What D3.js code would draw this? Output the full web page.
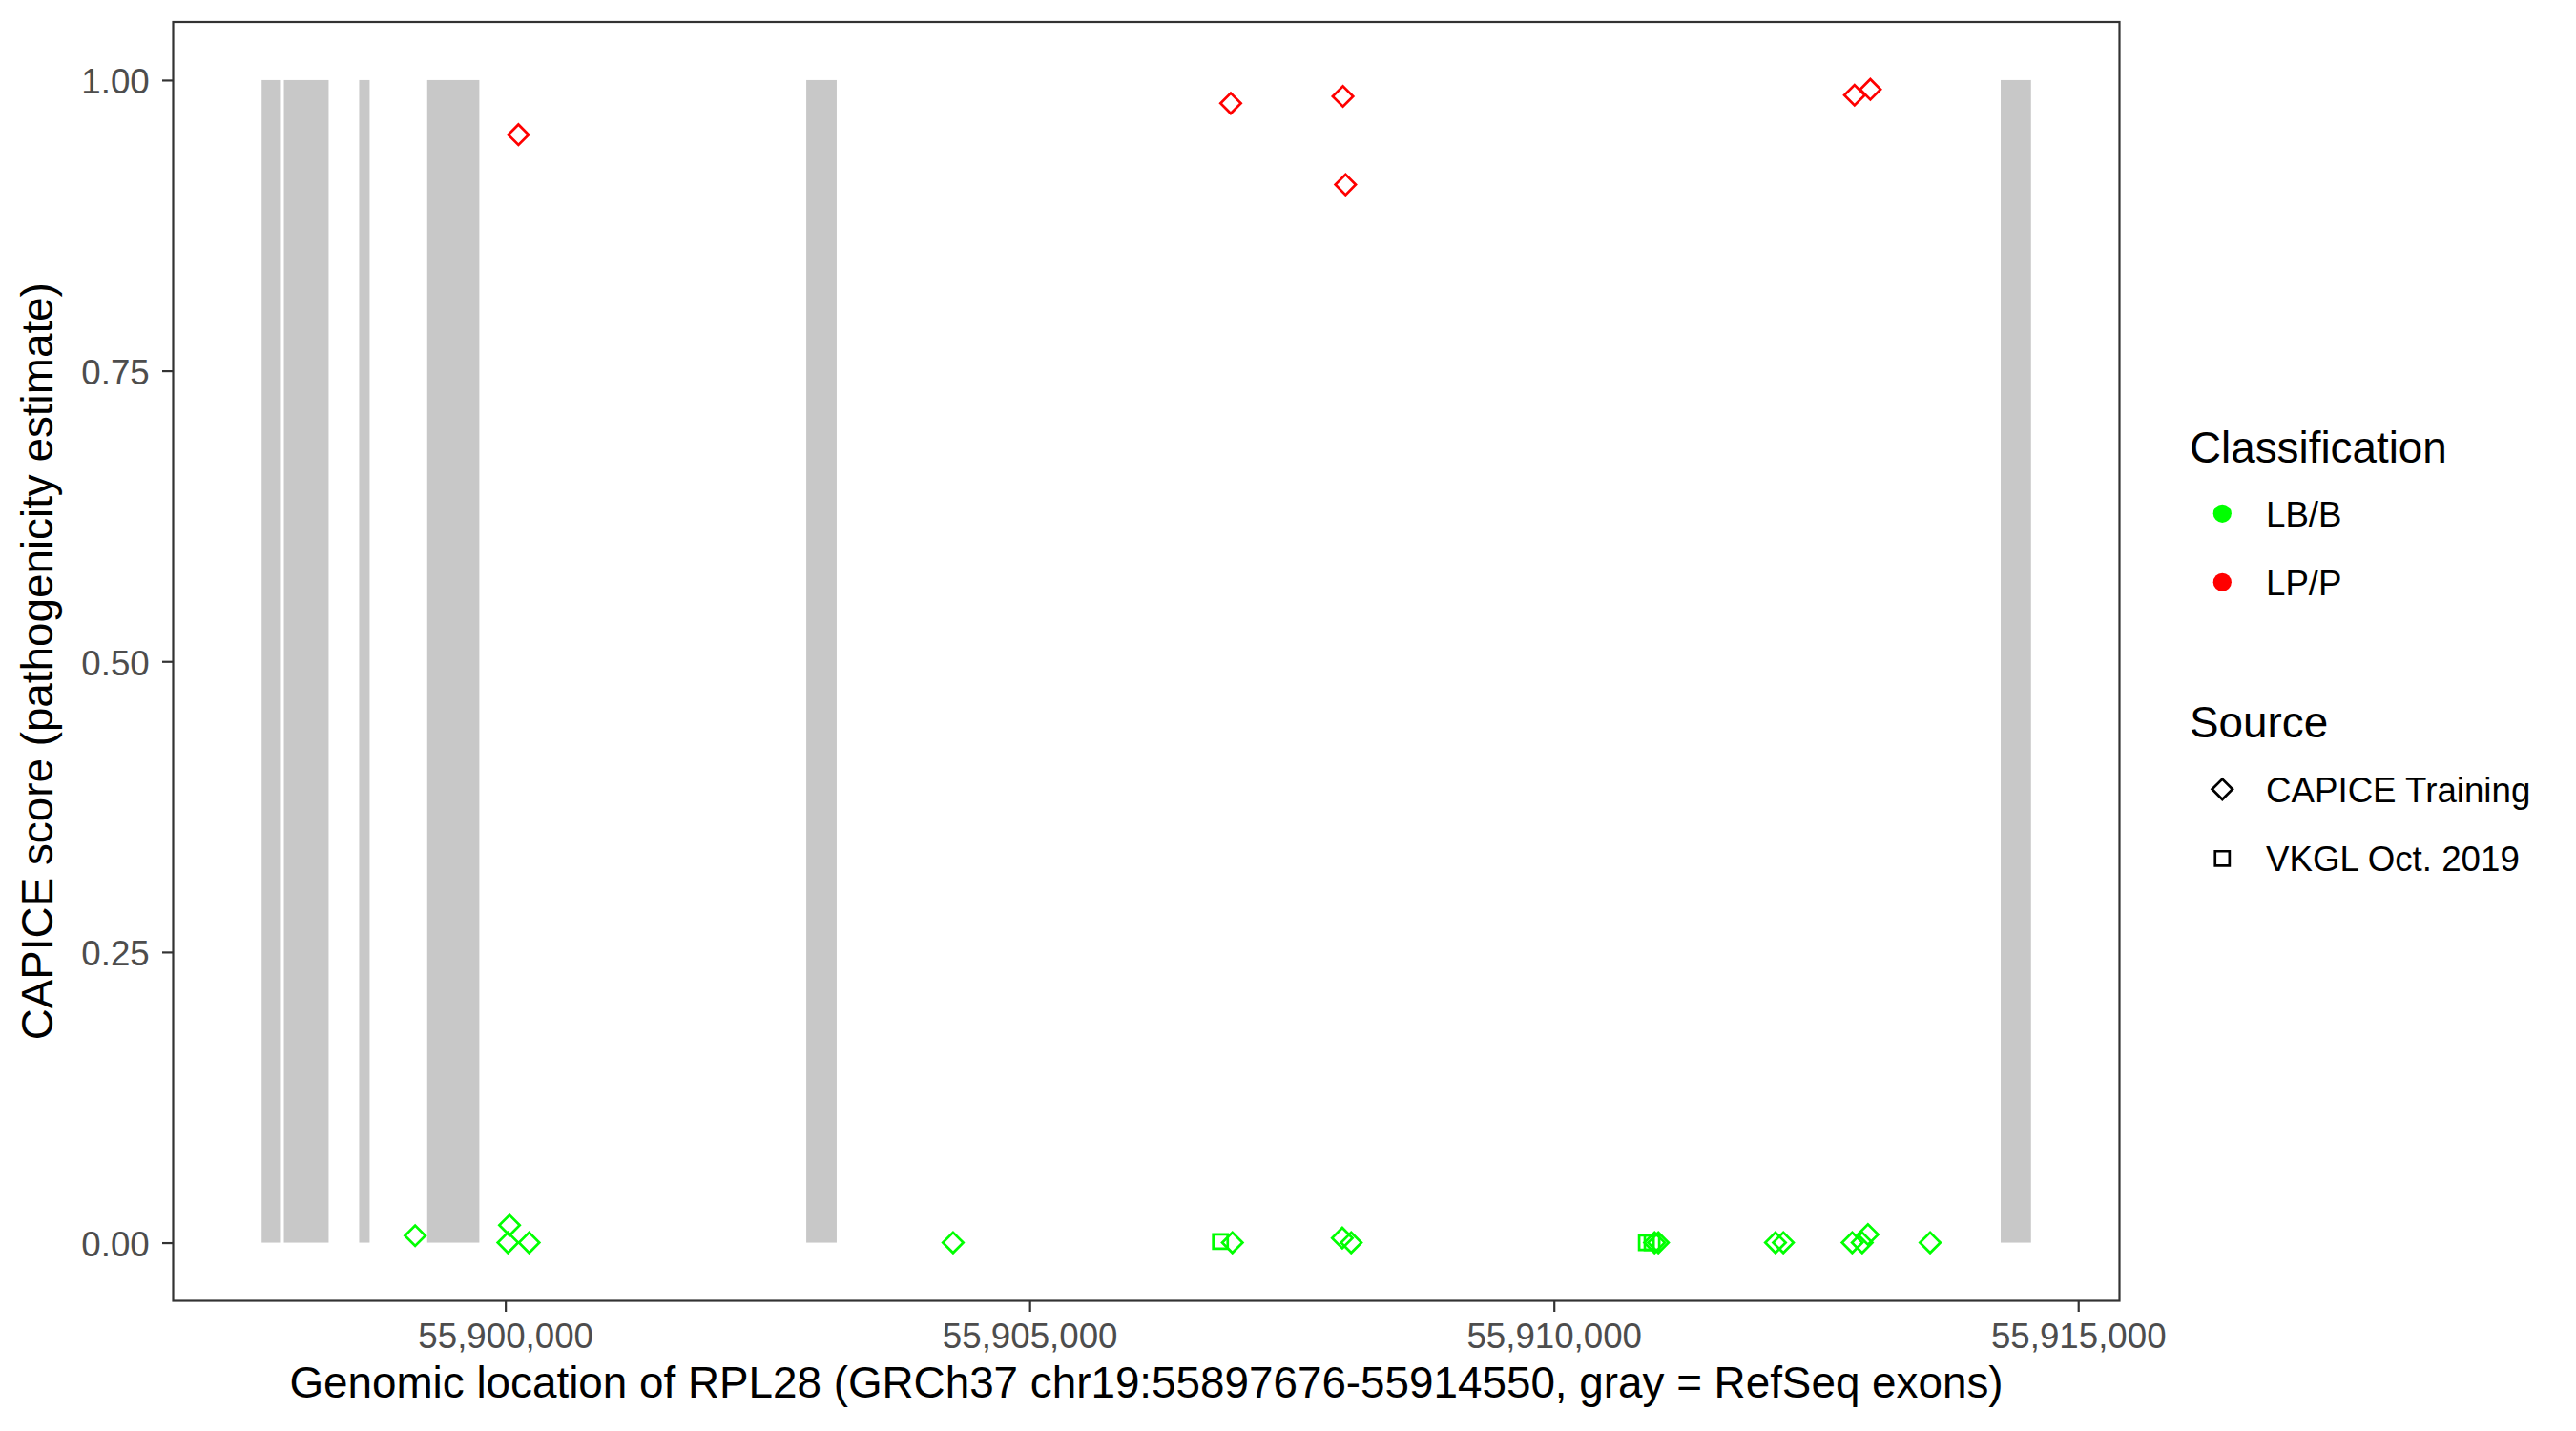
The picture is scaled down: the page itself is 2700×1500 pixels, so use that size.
<!DOCTYPE html>
<html>
<head>
<meta charset="utf-8">
<script src="https://cdn.jsdelivr.net/npm/d3@7"></script>
<style>
  body { margin: 0; background: #fff; }
  svg { display: block; font-family: "Liberation Sans", Arial, sans-serif; }
</style>
</head>
<body>
<script>
// gene window (GRCh37 chr19)
var geneStart = 55897676,
    geneEnd = 55914550;

// RefSeq exons, start / end
var exonStart = [55897676, 55897888, 55898606, 55899255, 55902870, 55914261];
var exonEnd   = [55897860, 55898315, 55898706, 55899752, 55903160, 55914550];

// variants: position, CAPICE score, classification, source
var varPos = [
    55899140, 55900040, 55900025, 55900227, 55904270, 55906820, 55906934,
    55907982, 55908067, 55910882, 55910936, 55910960, 55910996, 55912113,
    55912188, 55912845, 55912940, 55912995, 55913588,
    55900125, 55906918, 55907988, 55908013, 55912867, 55913018
];
var varScore = [
    0.006, 0.015, 0.000, 0.000, 0.000, 0.001, 0.000,
    0.004, 0.000, 0.000, 0.000, 0.000, 0.000, 0.000,
    0.000, 0.000, 0.000, 0.007, 0.000,
    0.953, 0.980, 0.986, 0.910, 0.987, 0.992
];
var varClass = [
    "LB/B", "LB/B", "LB/B", "LB/B", "LB/B", "LB/B", "LB/B",
    "LB/B", "LB/B", "LB/B", "LB/B", "LB/B", "LB/B", "LB/B",
    "LB/B", "LB/B", "LB/B", "LB/B", "LB/B",
    "LP/P", "LP/P", "LP/P", "LP/P", "LP/P", "LP/P"
];
var varSource = [
    "CAPICE Training", "CAPICE Training", "CAPICE Training", "CAPICE Training", "CAPICE Training", "VKGL Oct. 2019", "CAPICE Training",
    "CAPICE Training", "CAPICE Training", "VKGL Oct. 2019", "VKGL Oct. 2019", "CAPICE Training", "CAPICE Training", "CAPICE Training",
    "CAPICE Training", "CAPICE Training", "CAPICE Training", "CAPICE Training", "CAPICE Training",
    "CAPICE Training", "CAPICE Training", "CAPICE Training", "CAPICE Training", "CAPICE Training", "CAPICE Training"
];

var classes = ["LB/B", "LP/P"];
var sources = ["CAPICE Training", "VKGL Oct. 2019"];
var xTicks = [55900000, 55905000, 55910000, 55915000];
var yTicks = [0, 0.25, 0.5, 0.75, 1];

var width = 2700, height = 1500;
var panel = { left: 181.5, right: 2221.5, top: 23, bottom: 1363.5 };

var svg = d3.select("body")
    .append("svg")
    .attr("width", width)
    .attr("height", height);

// ggplot style 5% expansion
var span = geneEnd - geneStart;
var x = d3.scaleLinear()
    .domain([geneStart - span * 0.05, geneEnd + span * 0.05])
    .range([panel.left, panel.right]);

var y = d3.scaleLinear()
    .domain([-0.05, 1.05])
    .range([panel.bottom, panel.top]);

var colour = d3.scaleOrdinal().domain(classes).range(["#00ff00", "#ff0000"]);
var shape = d3.scaleOrdinal().domain(sources).range([45, 0]);

var sym = d3.symbol().type(d3.symbolSquare).size(228);

// exons
var exons = exonStart.map(function (s, i) { return { start: s, end: exonEnd[i] }; });

svg.append("g")
    .selectAll("rect")
    .data(exons)
    .enter().append("rect")
    .attr("x", function (d) { return x(d.start); })
    .attr("width", function (d) { return x(d.end) - x(d.start); })
    .attr("y", y(1))
    .attr("height", y(0) - y(1))
    .style("fill", "#c8c8c8");

// variants
var variants = varPos.map(function (p, i) {
    return { pos: p, score: varScore[i], cls: varClass[i], src: varSource[i] };
});

svg.append("g")
    .selectAll("path")
    .data(variants)
    .enter().append("path")
    .attr("d", sym)
    .attr("transform", function (d) {
        return "translate(" + x(d.pos) + "," + y(d.score) + ") rotate(" + shape(d.src) + ")";
    })
    .style("fill", "none")
    .style("stroke", function (d) { return colour(d.cls); })
    .style("stroke-width", 2.7);

// panel border
svg.append("rect")
    .attr("x", panel.left)
    .attr("y", panel.top)
    .attr("width", panel.right - panel.left)
    .attr("height", panel.bottom - panel.top)
    .style("fill", "none")
    .style("stroke", "#333333")
    .style("stroke-width", 2.2);

// axes
var xAxis = svg.append("g")
    .attr("transform", "translate(0," + panel.bottom + ")")
    .call(d3.axisBottom(x).tickValues(xTicks).tickFormat(d3.format(",")).tickSize(11.5).tickPadding(11.5));

var yAxis = svg.append("g")
    .attr("transform", "translate(" + panel.left + ",0)")
    .call(d3.axisLeft(y).tickValues(yTicks).tickFormat(d3.format(".2f")).tickSize(11.5).tickPadding(13.3));

[xAxis, yAxis].forEach(function (ax) {
    ax.select(".domain").remove();
    ax.selectAll(".tick line").style("stroke", "#333333").style("stroke-width", 2.2);
    ax.selectAll(".tick text")
        .style("fill", "#4d4d4d")
        .style("font-size", "36.7px")
        .style("font-family", "Liberation Sans, Arial, sans-serif");
});
yAxis.selectAll(".tick text").attr("dy", "0.38em");

svg.append("text")
    .attr("x", (panel.left + panel.right) / 2)
    .attr("y", 1465)
    .attr("text-anchor", "middle")
    .style("font-size", "45.8px")
    .text("Genomic location of RPL28 (GRCh37 chr19:" + geneStart + "-" + geneEnd + ", gray = RefSeq exons)");

svg.append("text")
    .attr("transform", "translate(55," + (panel.top + panel.bottom) / 2 + ") rotate(-90)")
    .attr("text-anchor", "middle")
    .style("font-size", "45.8px")
    .text("CAPICE score (pathogenicity estimate)");

// legends
var legend = svg.append("g");
var keyX = 2329.3, labelX = 2375;

legend.append("text")
    .attr("x", 2295).attr("y", 485)
    .style("font-size", "45.8px")
    .text("Classification");

var clsKeys = legend.selectAll(".cls")
    .data(classes)
    .enter().append("g")
    .attr("class", "cls")
    .attr("transform", function (d, i) { return "translate(0," + (538.3 + i * 72) + ")"; });

clsKeys.append("circle")
    .attr("cx", keyX).attr("r", 9.6)
    .style("fill", function (d) { return colour(d); });

clsKeys.append("text")
    .attr("x", labelX).attr("y", 13.4)
    .style("font-size", "36.7px")
    .text(function (d) { return d; });

legend.append("text")
    .attr("x", 2295).attr("y", 772.7)
    .style("font-size", "45.8px")
    .text("Source");

var srcKeys = legend.selectAll(".src")
    .data(sources)
    .enter().append("g")
    .attr("class", "src")
    .attr("transform", function (d, i) { return "translate(0," + (827.3 + i * 72.5) + ")"; });

srcKeys.append("path")
    .attr("d", sym)
    .attr("transform", function (d) { return "translate(" + keyX + ",0) rotate(" + shape(d) + ")"; })
    .style("fill", "none")
    .style("stroke", "#000")
    .style("stroke-width", 2.7);

srcKeys.append("text")
    .attr("x", labelX).attr("y", 13.4)
    .style("font-size", "36.7px")
    .text(function (d) { return d; });
</script>
</body>
</html>
